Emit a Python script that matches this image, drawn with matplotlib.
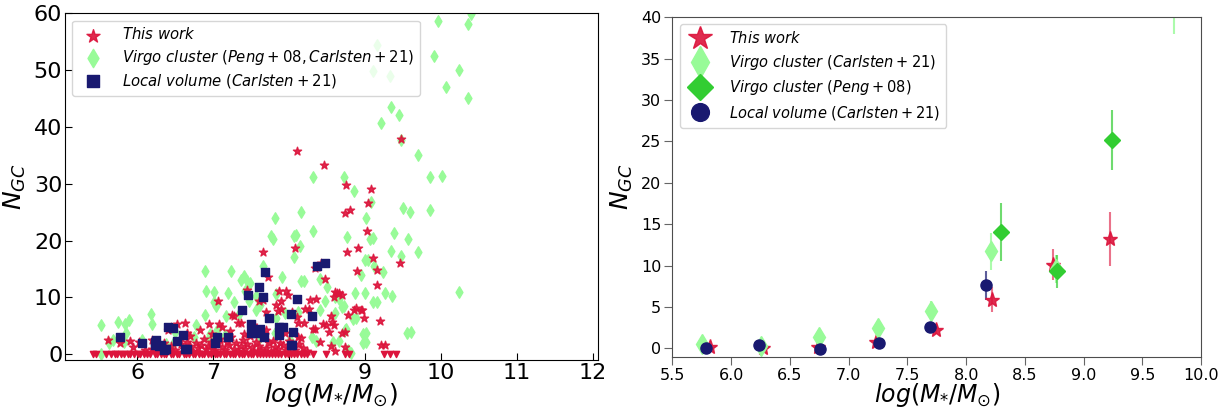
import numpy as np
import matplotlib.pyplot as plt

# ---- left panel: individual galaxies ----
# this work, detections (x = log M*, y = N_GC)
tw_x = [9.47, 8.10, 8.46, 8.75, 9.08, 9.04, 8.74, 8.80, 9.02, 8.08, 7.65, 8.76, 8.91, 9.11, 9.46,
        8.34, 8.42, 8.37, 7.72, 8.47, 8.90, 9.16, 9.16, 7.45, 7.87, 7.96, 7.99, 8.60, 8.65, 8.59,
        8.35, 7.07, 7.65, 7.89, 7.83, 8.88, 8.96, 8.98, 9.19, 7.25, 7.69, 7.89, 8.04, 8.26, 8.11,
        8.19, 8.78, 8.56, 8.59, 8.49, 8.52, 8.34, 8.74, 9.26, 8.74, 6.53, 6.63, 6.44, 6.95, 7.08,
        7.12, 7.36, 7.53, 5.61, 5.77, 5.90, 6.02, 6.19, 6.41, 6.83, 6.65, 7.28, 7.33, 7.86, 8.21,
        8.28, 8.63, 8.70, 8.55, 8.45, 8.70, 8.31, 8.12, 7.60, 7.95, 8.12, 8.86, 8.94, 9.21,
        6.30, 6.35, 6.45, 6.50, 6.55, 6.58, 6.62, 6.66, 6.70, 6.73, 6.77, 6.80, 6.84, 6.88, 6.90,
        6.93, 6.97, 7.00, 7.03, 7.06, 7.09, 7.12, 7.15, 7.18, 7.21, 7.24, 7.27, 7.30, 7.33, 7.36,
        7.39, 7.42, 7.45, 7.48, 7.51, 7.54, 7.57, 7.60, 7.63, 7.66, 7.70, 7.73, 7.76, 7.79, 7.82,
        7.85, 7.88, 7.92, 7.96, 8.00, 8.04, 8.08, 8.13, 8.18, 8.23, 6.20, 6.10, 5.95, 6.40, 7.22,
        7.50, 7.70, 7.40, 6.98, 6.70, 8.40, 8.55, 8.60, 8.15]
tw_y = [37.8, 35.7, 33.2, 29.7, 29.0, 26.6, 24.9, 25.3, 21.7, 18.7, 17.9, 18.0, 18.7, 17.0, 16.0,
        15.1, 16.0, 15.4, 13.6, 13.2, 14.7, 14.8, 12.2, 11.3, 11.2, 11.1, 10.4, 11.0, 10.7, 10.1,
        9.7, 9.4, 9.5, 9.3, 8.7, 8.1, 7.8, 6.4, 5.9, 6.9, 7.5, 7.9, 7.5, 7.9, 6.6,
        5.5, 6.9, 5.7, 5.1, 5.1, 3.9, 4.5, 3.9, 1.6, 1.3, 5.4, 5.5, 4.8, 5.3, 5.3,
        4.8, 5.5, 5.1, 2.5, 2.0, 2.4, 2.2, 2.5, 4.2, 4.2, 3.8, 6.7, 5.5, 7.6, 7.9,
        9.5, 10.8, 10.5, 6.7, 5.4, 3.8, 4.4, 5.5, 9.4, 3.8, 3.1, 7.8, 7.7, 1.6,
        1.2, 2.0, 1.5, 0.8, 2.4, 1.8, 1.0, 2.2, 1.4, 0.6, 2.0, 1.1, 1.7, 2.6, 0.9,
        1.5, 2.1, 1.2, 0.7, 1.9, 2.6, 1.3, 0.8, 2.2, 1.6, 3.0, 1.0, 2.0, 0.6, 1.4,
        2.5, 0.9, 1.8, 3.2, 1.2, 0.5, 2.1, 1.5, 0.8, 2.8, 1.1, 1.9, 0.6, 2.4, 1.3,
        0.9, 2.0, 1.6, 0.7, 2.3, 1.2, 0.8, 1.8, 1.1, 0.6, 1.0, 0.8, 1.2, 0.5, 4.0,
        3.9, 4.2, 3.5, 3.6, 3.2, 2.2, 1.5, 0.6, 2.8]

# this work, non-detections plotted at zero
tw0_x = [5.42, 5.46, 5.59, 5.65, 5.71, 5.74, 5.79, 5.83, 5.88, 5.91, 5.96, 6.01, 6.04, 6.09,
         6.13, 6.17, 6.23, 6.26, 6.31, 6.35, 6.38, 6.44, 6.47, 6.52, 6.55, 6.61, 6.64, 6.68,
         6.73, 6.76, 6.81, 6.85, 6.88, 6.93, 6.97, 7.02, 7.05, 7.09, 7.14, 7.17, 7.22, 7.26,
         7.29, 7.34, 7.38, 7.41, 7.46, 7.50, 7.53, 7.58, 7.62, 7.65, 7.70, 7.74, 7.77, 7.82,
         7.86, 7.89, 7.94, 7.98, 8.03, 8.06, 8.11, 8.15, 8.19, 8.24, 8.31, 8.49, 8.73, 8.79,
         9.25, 9.33, 9.41]

# Virgo cluster galaxies
vc_x = [9.96, 10.35, 10.40, 9.16, 9.91, 9.10, 9.33, 10.23, 10.07, 10.36, 9.34, 9.45, 9.21, 9.47,
        9.69, 8.31, 8.72, 9.85, 10.01, 8.86, 9.08, 8.15, 7.81, 9.50, 9.59, 9.86, 8.32, 8.09,
        8.76, 9.01, 9.11, 9.38, 9.57, 7.79, 8.14, 8.07, 9.70, 9.34, 9.47, 9.04, 9.12, 7.65,
        6.89, 7.23, 7.40, 7.36, 7.48, 7.90, 8.19, 8.41, 8.50, 8.95, 9.23, 10.24, 6.91, 7.01,
        7.19, 7.42, 7.56, 7.83, 8.66, 8.87, 9.00, 9.26, 9.36, 9.16, 8.61, 8.47, 7.01, 7.04,
        7.27, 7.47, 7.62, 8.72, 6.89, 6.18, 6.19, 7.17, 7.34, 7.57, 7.83, 7.95, 8.12, 8.41,
        8.61, 8.88, 5.53, 5.75, 5.84, 5.89, 5.85, 9.01, 9.60, 8.58, 8.74, 9.01, 6.77, 6.50,
        6.96, 7.16, 7.05, 5.63, 5.68, 5.82, 6.06, 6.38, 6.48, 6.75, 6.94, 7.62, 7.82, 8.01,
        8.30, 8.35, 8.82, 8.77, 8.97, 9.55, 8.66, 8.84, 8.69, 9.11, 8.97, 8.75, 5.53, 7.76,
        8.06, 9.06, 9.00, 7.45, 8.15]
vc_y = [58.6, 58.0, 59.8, 54.3, 52.4, 49.9, 48.9, 50.0, 47.0, 45.1, 43.4, 42.1, 40.7, 37.6,
        35.1, 31.2, 31.1, 31.1, 31.3, 28.7, 26.8, 25.0, 24.0, 25.8, 25.0, 25.3, 21.6, 20.9,
        20.7, 24.0, 20.4, 21.3, 20.2, 20.3, 19.0, 17.1, 18.0, 18.1, 17.2, 16.5, 15.6, 15.6,
        14.6, 14.6, 13.7, 13.1, 12.6, 13.5, 12.8, 13.3, 11.8, 14.0, 14.4, 10.9, 11.1, 10.9,
        10.7, 11.2, 10.3, 10.6, 9.8, 10.7, 10.8, 10.7, 10.3, 9.1, 10.0, 9.3, 9.1, 8.4,
        9.1, 9.4, 8.7, 8.4, 6.9, 7.0, 5.3, 6.7, 7.0, 7.8, 6.3, 7.2, 7.5, 7.8,
        7.2, 6.3, 5.1, 5.6, 5.3, 6.0, 3.8, 3.7, 3.9, 2.2, 4.2, 2.2, 5.1, 3.9,
        3.6, 3.4, 4.2, 1.9, 2.5, 2.2, 2.5, 1.8, 2.2, 3.0, 2.8, 3.0, 3.7, 2.5,
        3.0, 2.4, 0.2, 0.7, 2.0, 3.8, 2.3, 6.2, 8.3, 9.1, 3.6, 4.4, 0.1, 20.8,
        20.8, 20.3, 16.6, 12.8, 12.8]

# Local volume galaxies
lv_x = [8.47, 8.37, 7.68, 7.60, 7.46, 7.65, 8.10, 7.38, 8.02, 8.30, 7.73, 7.50, 6.41, 6.47,
        7.87, 7.92, 7.62, 8.05, 5.78, 7.05, 7.20, 7.50, 7.56, 7.87, 7.67, 6.60, 6.25, 6.23,
        6.31, 6.35, 6.06, 6.65, 8.04, 6.53, 6.24, 6.29, 6.38, 6.63, 7.03, 8.02]
lv_y = [16.1, 15.6, 14.4, 11.9, 10.4, 10.0, 9.7, 7.8, 7.0, 6.8, 6.3, 5.3, 4.8, 4.7,
        4.8, 4.8, 4.5, 3.9, 3.1, 3.1, 3.1, 3.7, 3.7, 3.4, 3.1, 3.4, 2.5, 1.6,
        1.6, 0.8, 1.9, 1.0, 1.7, 2.3, 2.2, 1.5, 1.0, 0.9, 1.9, 1.6]

# ---- right panel: binned medians ----
bin_tw_x = [5.82, 6.27, 6.74, 7.23, 7.74, 8.22, 8.74, 9.22]
bin_tw_y = [0.2, 0.0, 0.2, 0.8, 2.2, 5.9, 10.1, 13.2]
bin_tw_err = [0.2, 0.2, 0.3, 0.4, 0.5, 1.5, 1.9, 3.3]

bin_c21_x = [5.75, 6.25, 6.75, 7.25, 7.70, 8.21, 8.76, 9.77]
bin_c21_y = [0.5, 0.3, 1.4, 2.5, 4.5, 11.7, 9.6, 46.0]
bin_c21_err = [0.3, 0.3, 0.5, 0.7, 1.2, 2.2, 1.7, 8.0]

bin_p08_x = [8.30, 8.77, 9.24]
bin_p08_y = [14.0, 9.3, 25.2]
bin_p08_err = [3.5, 2.0, 3.6]

bin_lv_x = [5.79, 6.24, 6.76, 7.26, 7.69, 8.17]
bin_lv_y = [0.1, 0.4, -0.1, 0.6, 2.6, 7.6]
bin_lv_err = [0.2, 0.3, 0.2, 0.3, 0.6, 1.7]

red = 'crimson'
light = 'palegreen'
dark = 'limegreen'
navy = 'midnightblue'

fig, (ax1, ax2) = plt.subplots(1, 2, figsize=(12.27, 4.09), dpi=100)
ax1.set_position([0.053, 0.12, 0.434, 0.848])
ax2.set_position([0.548, 0.128, 0.431, 0.830])

ax1.scatter(vc_x, vc_y, marker='d', s=34, color=light, zorder=2,
            label=r'$Virgo\ cluster\ (Peng+08, Carlsten+21)$')
ax1.scatter(tw_x, tw_y, marker='*', s=38, color=red, alpha=0.9, zorder=3, label=r'$This\ work$')
ax1.scatter(tw0_x, np.zeros(len(tw0_x)), marker='v', s=20, color=red, zorder=3)
ax1.scatter(lv_x, lv_y, marker='s', s=26, color=navy, zorder=4,
            label=r'$Local\ volume\ (Carlsten+21)$')

ax1.set_xlim(5.05, 12.06)
ax1.set_ylim(-1, 60)
ax1.set_xticks(range(6, 13))
ax1.tick_params(direction='in', labelsize=16, length=5, pad=2)
ax1.set_xlabel(r'$log(M_{*}/M_{\odot})$', fontsize=18, labelpad=-1)
ax1.set_ylabel(r'$N_{GC}$', fontsize=18, labelpad=4)
h, l = ax1.get_legend_handles_labels()
ax1.legend([h[1], h[0], h[2]], [l[1], l[0], l[2]], loc='upper left',
           fontsize=10.7, markerscale=1.6, labelspacing=0.35, handletextpad=0.9)

# right panel
ax2.errorbar(bin_c21_x, bin_c21_y, yerr=bin_c21_err, fmt='none', ecolor=light, elinewidth=1.5, alpha=0.8)
ax2.errorbar(bin_p08_x, bin_p08_y, yerr=bin_p08_err, fmt='none', ecolor=dark, elinewidth=1.5, alpha=0.7)
ax2.errorbar(bin_lv_x, bin_lv_y, yerr=bin_lv_err, fmt='none', ecolor=navy, elinewidth=1.5, alpha=0.7)
ax2.errorbar(bin_tw_x, bin_tw_y, yerr=bin_tw_err, fmt='none', ecolor=red, elinewidth=1.5, alpha=0.6)

ax2.plot(bin_tw_x, bin_tw_y, '*', color=red, ms=11, alpha=0.9, label=r'$This\ work$')
ax2.plot(bin_c21_x, bin_c21_y, 'd', color=light, ms=10, label=r'$Virgo\ cluster\ (Carlsten+21)$')
ax2.plot(bin_p08_x, bin_p08_y, 'D', color=dark, ms=8, label=r'$Virgo\ cluster\ (Peng+08)$')
ax2.plot(bin_lv_x, bin_lv_y, 'o', color=navy, ms=8, label=r'$Local\ volume\ (Carlsten+21)$')

ax2.set_xlim(5.5, 10.0)
ax2.set_ylim(-1, 40)
ax2.set_xticks(np.arange(5.5, 10.01, 0.5))
ax2.set_yticks(np.arange(0, 41, 5))
ax2.tick_params(direction='out', labelsize=11.5, length=6, color='0.4', pad=2)
for sp in ax2.spines.values():
    sp.set_color('0.3')
ax2.set_xlabel(r'$log(M_{*}/M_{\odot})$', fontsize=17, labelpad=-1.5)
ax2.set_ylabel(r'$N_{GC}$', fontsize=18)
ax2.legend(loc='upper left', fontsize=10.5, markerscale=1.6, labelspacing=0.45, handletextpad=1.0)

fig.savefig('out.png', dpi=100)
